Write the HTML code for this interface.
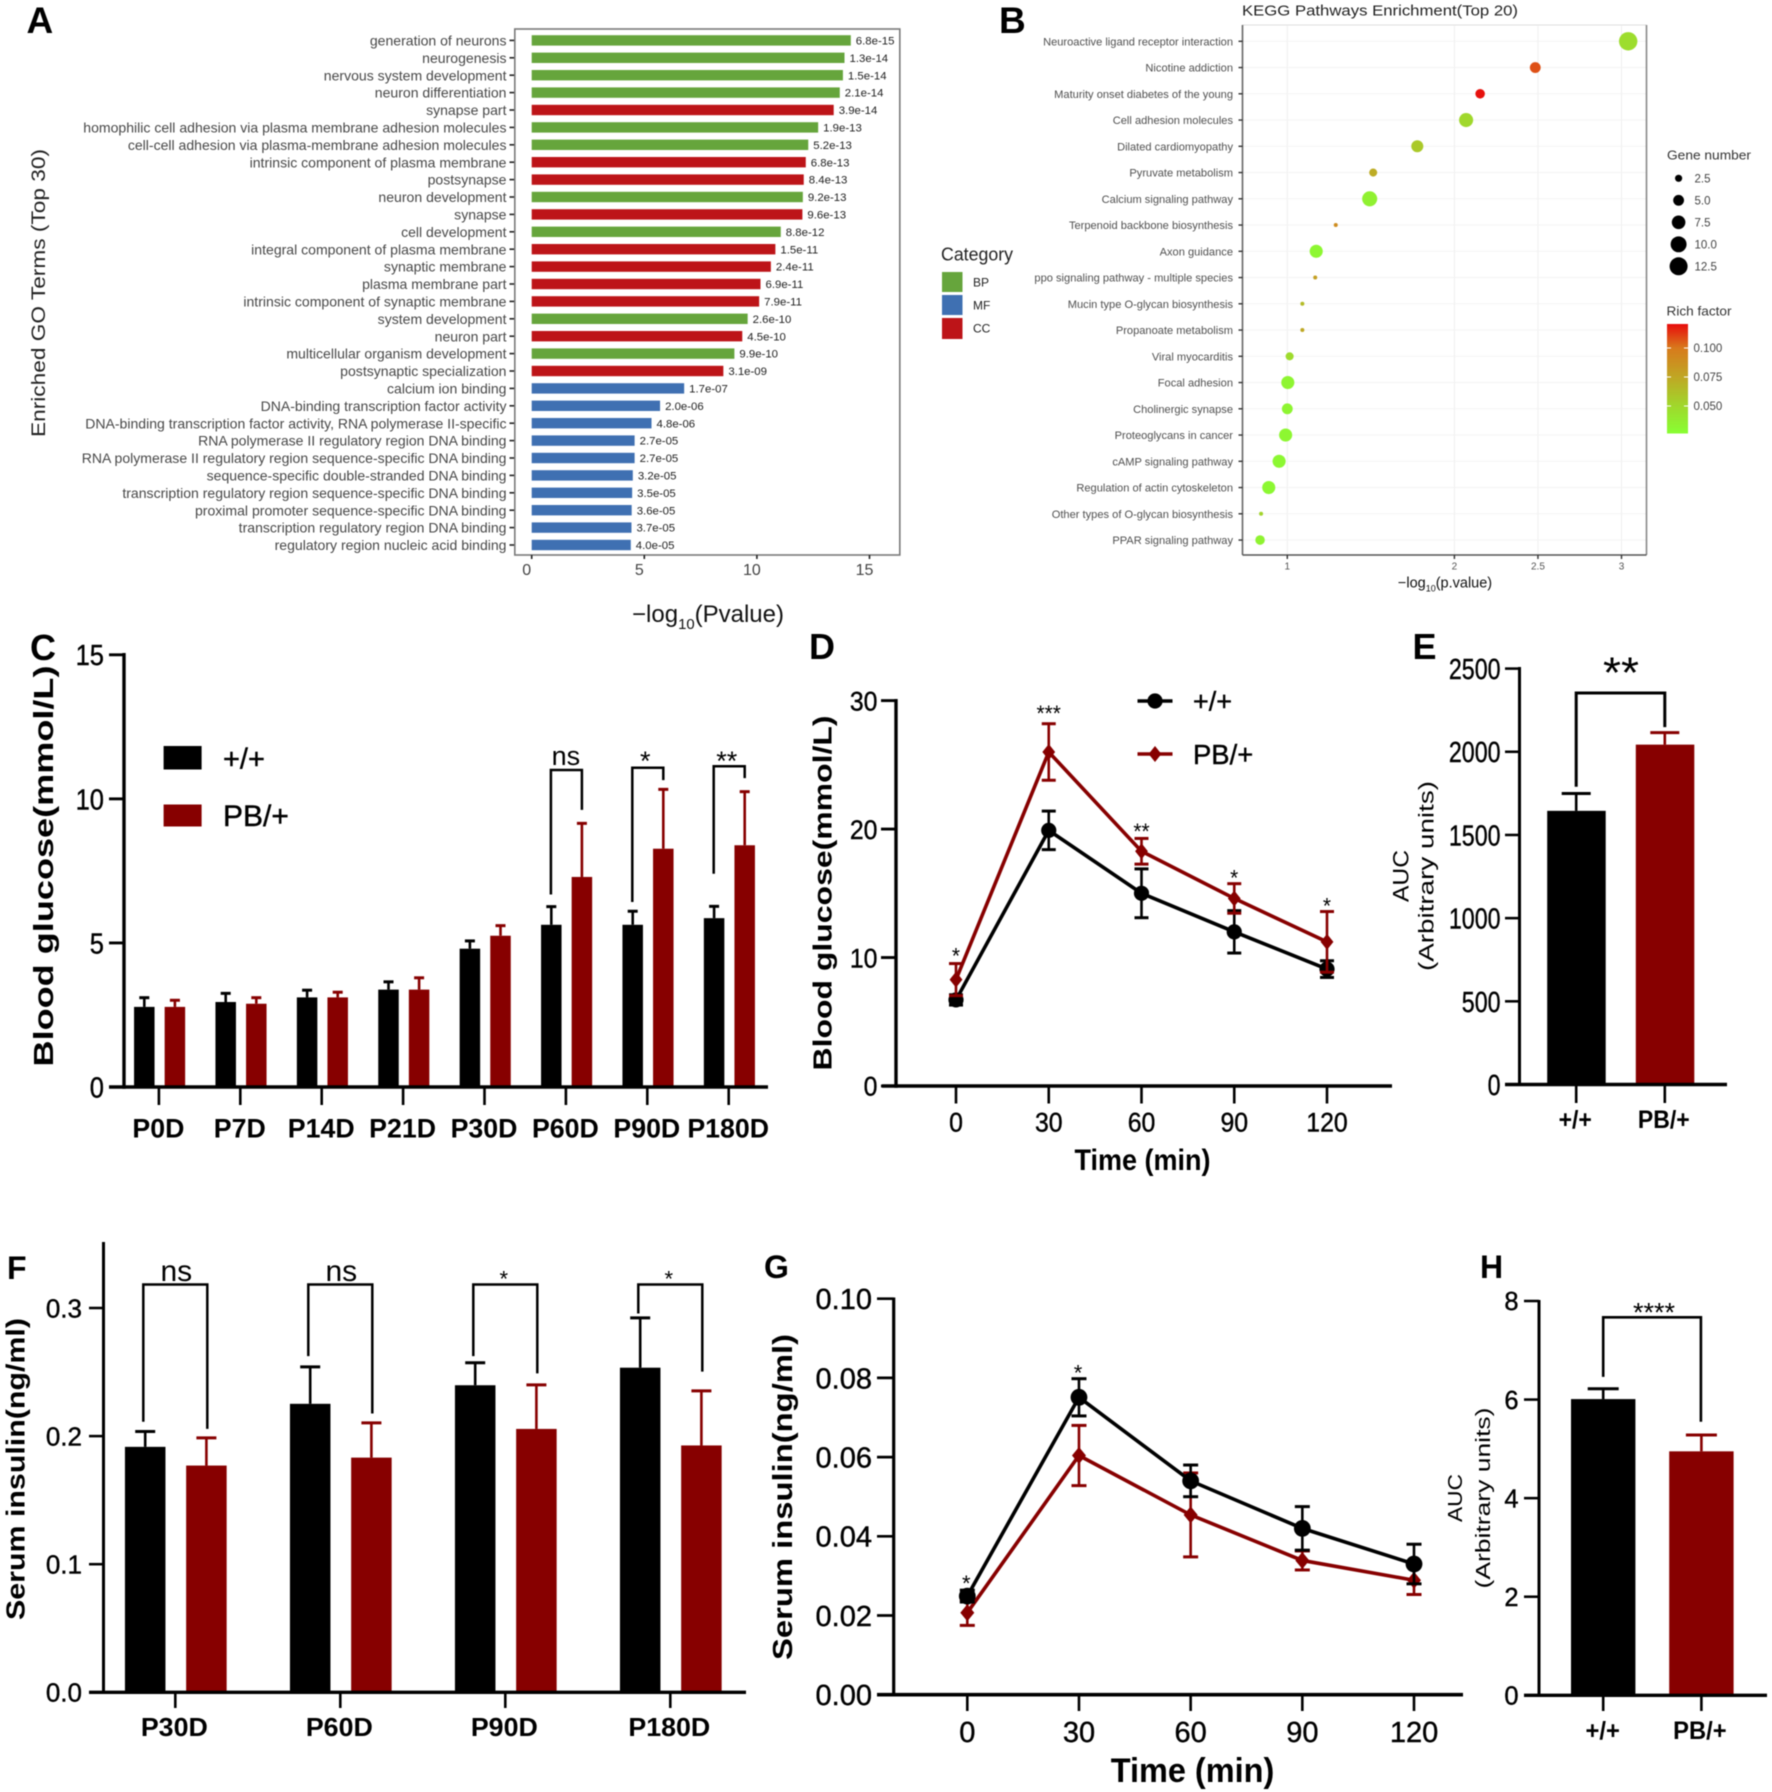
<!DOCTYPE html>
<html lang="en">
<head>
<meta charset="utf-8">
<title>Multi-panel figure</title>
<style>
html,body{margin:0;padding:0;background:#fff;}
body{width:1772px;height:1792px;overflow:hidden;}
svg{display:block;filter:blur(0.45px);}
text{font-family:"Liberation Sans",sans-serif;}
</style>
</head>
<body>
<svg id="fig" xmlns="http://www.w3.org/2000/svg" width="1772" height="1792" viewBox="0 0 1772 1792">
<defs>
<linearGradient id="richGrad" x1="0" y1="1" x2="0" y2="0">
<stop offset="0" stop-color="#88ff33"/>
<stop offset="0.25" stop-color="#a0d82c"/>
<stop offset="0.51" stop-color="#bfa824"/>
<stop offset="0.78" stop-color="#d87a1c"/>
<stop offset="1" stop-color="#e80c0c"/>
</linearGradient>
</defs>
</svg>
<script>
/* ---------- Panel A data ---------- */
const goTerms = ["generation of neurons","neurogenesis","nervous system development","neuron differentiation","synapse part","homophilic cell adhesion via plasma membrane adhesion molecules","cell-cell adhesion via plasma-membrane adhesion molecules","intrinsic component of plasma membrane","postsynapse","neuron development","synapse","cell development","integral component of plasma membrane","synaptic membrane","plasma membrane part","intrinsic component of synaptic membrane","system development","neuron part","multicellular organism development","postsynaptic specialization","calcium ion binding","DNA-binding transcription factor activity","DNA-binding transcription factor activity, RNA polymerase II-specific","RNA polymerase II regulatory region DNA binding","RNA polymerase II regulatory region sequence-specific DNA binding","sequence-specific double-stranded DNA binding","transcription regulatory region sequence-specific DNA binding","proximal promoter sequence-specific DNA binding","transcription regulatory region DNA binding","regulatory region nucleic acid binding"];
const goCategory = ["BP","BP","BP","BP","CC","BP","BP","CC","CC","BP","CC","BP","CC","CC","CC","CC","BP","CC","BP","CC","MF","MF","MF","MF","MF","MF","MF","MF","MF","MF"];
const goLogP = [14.17,13.89,13.82,13.68,13.41,12.72,12.28,12.17,12.08,12.04,12.02,11.06,10.82,10.62,10.16,10.10,9.59,9.35,9.00,8.51,6.77,5.70,5.32,4.57,4.57,4.49,4.46,4.44,4.43,4.40];
const goPLabels = ["6.8e-15","1.3e-14","1.5e-14","2.1e-14","3.9e-14","1.9e-13","5.2e-13","6.8e-13","8.4e-13","9.2e-13","9.6e-13","8.8e-12","1.5e-11","2.4e-11","6.9e-11","7.9e-11","2.6e-10","4.5e-10","9.9e-10","3.1e-09","1.7e-07","2.0e-06","4.8e-06","2.7e-05","2.7e-05","3.2e-05","3.5e-05","3.6e-05","3.7e-05","4.0e-05"];
const goTicks = [0,5,10,15];

/* ---------- Panel B data ---------- */
const keggPathways = ["Neuroactive ligand receptor interaction","Nicotine addiction","Maturity onset diabetes of the young","Cell adhesion molecules","Dilated cardiomyopathy","Pyruvate metabolism","Calcium signaling pathway","Terpenoid backbone biosynthesis","Axon guidance","ppo signaling pathway - multiple species","Mucin type O-glycan biosynthesis","Propanoate metabolism","Viral myocarditis","Focal adhesion","Cholinergic synapse","Proteoglycans in cancer","cAMP signaling pathway","Regulation of actin cytoskeleton","Other types of O-glycan biosynthesis","PPAR signaling pathway"];
const keggLogP = [3.04,2.484,2.154,2.07,1.778,1.514,1.493,1.29,1.173,1.167,1.09,1.09,1.014,1.003,1.0,0.99,0.951,0.889,0.843,0.837];
const keggGenes = [13,5,4,8,6,3,9,1,7,1,1,1,3,7,5,7,7,7,1,4];
const keggRich = [0.047,0.108,0.12,0.05,0.058,0.073,0.035,0.09,0.032,0.08,0.065,0.075,0.048,0.033,0.033,0.032,0.031,0.031,0.052,0.034];
const keggTicks = [1,2,2.5,3];
const geneLegend = [2.5,5,7.5,10,12.5];
const richTicks = [0.1,0.075,0.05];

/* ---------- Panel C data ---------- */
const cDays = ["P0D","P7D","P14D","P21D","P30D","P60D","P90D","P180D"];
const cControl = [2.78,2.95,3.11,3.38,4.8,5.63,5.63,5.86];
const cControlErr = [0.32,0.3,0.25,0.27,0.27,0.63,0.47,0.41];
const cMutant = [2.78,2.89,3.11,3.38,5.25,7.29,8.27,8.39];
const cMutantErr = [0.23,0.21,0.18,0.41,0.35,1.86,2.06,1.86];
const cTicks = [0,5,10,15];
const cSigIndex = [5,6,7];
const cSigLabels = ["ns","*","**"];
const cSigTop = [11.0,11.08,11.13];
const cSigLeft = [6.68,6.42,7.4];
const cSigRight = [9.62,10.65,10.72];

/* ---------- Panel D data ---------- */
const dTimes = [0,30,60,90,120];
const dControl = [6.7,19.9,15.0,12.0,9.1];
const dControlErr = [0.4,1.5,1.9,1.65,0.65];
const dMutant = [8.28,26.0,18.27,14.6,11.22];
const dMutantErr = [1.25,2.2,1.0,1.15,2.36];
const dTicks = [0,10,20,30];
const dStars = ["*","***","**","*","*"];
const dStarValues = [10.5,29.4,20.2,16.6,14.4];

/* ---------- Panel E data ---------- */
const eGroups = ["+/+","PB/+"];
const eValues = [1645,2043];
const eErrors = [104,72];
const eTicks = [0,500,1000,1500,2000,2500];
const eSigTop = 2353;
const eSigEnds = [1790,2148];

/* ---------- Panel F data ---------- */
const fDays = ["P30D","P60D","P90D","P180D"];
const fControl = [0.1916,0.2252,0.2397,0.2534];
const fControlErr = [0.012,0.0288,0.0176,0.0389];
const fMutant = [0.177,0.1832,0.2056,0.1927];
const fMutantErr = [0.0216,0.0271,0.0344,0.0426];
const fTicks = [0,0.1,0.2,0.3];
const fSigLabels = ["ns","ns","*","*"];
const fSigTop = [0.3183,0.3183,0.3183,0.3183];
const fSigLeft = [0.2112,0.2624,0.2624,0.2957];
const fSigRight = [0.2056,0.2176,0.249,0.2503];

/* ---------- Panel G data ---------- */
const gTimes = [0,30,60,90,120];
const gControl = [0.0249,0.0751,0.054,0.042,0.033];
const gControlErr = [0.0015,0.0047,0.004,0.0055,0.005];
const gMutant = [0.0207,0.0604,0.0454,0.0339,0.0289];
const gMutantErr = [0.0032,0.0076,0.0106,0.0024,0.0036];
const gTicks = [0,0.02,0.04,0.06,0.08,0.1];
const gStars = ["*","*"];
const gStarIndex = [0,1];
const gStarValues = [0.0293,0.0825];

/* ---------- Panel H data ---------- */
const hGroups = ["+/+","PB/+"];
const hValues = [6.01,4.95];
const hErrors = [0.21,0.33];
const hTicks = [0,2,4,6,8];
const hSigTop = 7.67;
const hSigEnds = [6.46,5.55];

/* ---------- helpers ---------- */
const NS = "http://www.w3.org/2000/svg";
const root = document.getElementById("fig");
const BLACK = "#000000", DARKRED = "#870000";

function tag(node, name) {
  
  
  return node;
}
function make(kind, attrs, parent) {
  const n = document.createElementNS(NS, kind);
  for (const k in attrs) n.setAttribute(k, attrs[k]);
  (parent || root).appendChild(n);
  return n;
}
function panel(name) {
  return tag(make("g", {}), name);
}
function linear(d0, d1, r0, r1) {
  return function (v) { return r0 + (v - d0) * (r1 - r0) / (d1 - d0); };
}
function L(p, name, x1, y1, x2, y2, color, w) {
  return tag(make("line", {x1: x1, y1: y1, x2: x2, y2: y2, stroke: color || "#000", "stroke-width": w || 3}, p), name);
}
function R(p, name, x, y, w, h, color) {
  return tag(make("rect", {x: x, y: y, width: w, height: h, fill: color}, p), name);
}
function T(p, name, str, x, y, o) {
  o = o || {};
  const size = o.size || 14;
  const t = make("text", {"font-size": size, fill: o.color || "#000", "text-anchor": o.anchor || "middle"}, p);
  if (o.bold) t.setAttribute("font-weight", "bold");
  if (o.thick) {
    t.setAttribute("stroke", o.color || "#000");
    t.setAttribute("stroke-width", o.thick);
  }
  if (o.rot) {
    t.setAttribute("transform", "translate(" + (x + 0.36 * size) + "," + y + ") rotate(-90)");
  } else {
    const by = o.base ? y : y + 0.36 * size;
    t.setAttribute("transform", "translate(" + x + "," + by + ") scale(" + (o.sx || 1) + ",1)");
  }
  if (o.len) {
    t.setAttribute("textLength", o.len);
    t.setAttribute("lengthAdjust", "spacingAndGlyphs");
  }
  t.textContent = str;
  return tag(t, name);
}
function star(p, name, str, x, yc, size, sx) {
  return T(p, name, str, x, yc + 0.57 * size, {size: size, base: true, sx: sx || 1});
}
function nsText(p, name, x, yc, size) {
  return T(p, name, "ns", x, yc + 0.26 * size, {size: size, base: true});
}
function logTitle(p, name, x, yc, size, rest) {
  const t = make("text", {"font-size": size, fill: "#111", "text-anchor": "middle",
    transform: "translate(" + x + "," + (yc + 0.3 * size) + ")"}, p);
  const a = make("tspan", {}, t); a.textContent = "\u2212log";
  const b = make("tspan", {dy: 0.28 * size, "font-size": size * 0.62}, t); b.textContent = "10";
  const c = make("tspan", {dy: -0.28 * size}, t); c.textContent = rest;
  return tag(t, name);
}
function bracket(p, name, xl, xr, yTop, yl, yr, w) {
  return tag(make("path", {d: "M" + xl + " " + yl + "V" + yTop + "H" + xr + "V" + yr, fill: "none", stroke: "#000", "stroke-width": w || 2.5}, p), name);
}
function errUp(p, name, x, yv, yt, capW, color, w) {
  L(p, name + "-stem", x, yv, x, yt, color, w || 2.6);
  L(p, name + "-cap", x - capW / 2, yt, x + capW / 2, yt, color, 3);
}
function errBoth(p, name, x, yb, yt, capW, color) {
  L(p, name + "-stem", x, yb, x, yt, color, 2.6);
  L(p, name + "-cap-top", x - capW / 2, yt, x + capW / 2, yt, color, 3);
  L(p, name + "-cap-bottom", x - capW / 2, yb, x + capW / 2, yb, color, 3);
}
function yAxis(p, prefix, x, yFn, ticks, top, tickLeft, w, fmt, labelOpts, labelRight) {
  L(p, prefix + "-y-axis", x, yFn(ticks[0]) + w / 2, x, top, "#000", w);
  ticks.forEach(function (v) {
    L(p, prefix + "-y-tick", tickLeft, yFn(v), x, yFn(v), "#000", w * 0.85);
    T(p, prefix + "-y-tick-label", fmt(v), labelRight, yFn(v), labelOpts);
  });
}
function diamond(p, name, x, y, rx, ry, color) {
  return tag(make("polygon", {points: (x - rx) + "," + y + " " + x + "," + (y - ry) + " " + (x + rx) + "," + y + " " + x + "," + (y + ry), fill: color}, p), name);
}
function circle(p, name, x, y, r, color) {
  return tag(make("circle", {cx: x, cy: y, r: r, fill: color}, p), name);
}

/* ---------- Panel A ---------- */
(function () {
  const p = panel("panel-a-go-enrichment");
  const colors = {BP: "#66a53c", MF: "#3f70b2", CC: "#bd1418"};
  const x = linear(0, 15, 531.7, 869.5);
  const y = function (i) { return 40.4 + i * 17.4; };
  T(p, "panel-letter-a", "A", 26.5, 33, {size: 37, bold: true, base: true, anchor: "start"});
  make("rect", {x: 514.8, y: 29, width: 385, height: 526, fill: "none", stroke: "#7a7a7a", "stroke-width": 1.6}, p);
  goTerms.forEach(function (term, i) {
    R(p, "go-bar", x(0), y(i) - 5.2, x(goLogP[i]) - x(0), 10.4, colors[goCategory[i]]);
    L(p, "go-y-tick", 509.5, y(i), 514, y(i), "#222", 1.6);
    T(p, "go-term-label", term, 506.5, y(i), {size: 14.05, anchor: "end", color: "#484848"});
    T(p, "go-pvalue-label", goPLabels[i], x(goLogP[i]) + 5, y(i), {size: 11.4, anchor: "start", color: "#222"});
  });
  goTicks.forEach(function (v) {
    L(p, "go-x-tick", x(v), 555, x(v), 559, "#222", 1.6);
    T(p, "go-x-tick-label", String(v), x(v) - 5, 569, {size: 16, color: "#444"});
  });
  T(p, "go-y-axis-title", "Enriched GO Terms (Top 30)", 38, 293, {size: 19, rot: true, len: 288, color: "#222"});
  logTitle(p, "go-x-axis-title", 708, 615, 24, "(Pvalue)");
  T(p, "category-legend-title", "Category", 977, 254, {size: 18, len: 72, color: "#222"});
  R(p, "legend-swatch-bp", 942, 272, 20.5, 20, colors.BP);
  R(p, "legend-swatch-mf", 942, 295, 20.5, 20, colors.MF);
  R(p, "legend-swatch-cc", 942, 318, 20.5, 21, colors.CC);
  T(p, "legend-label-bp", "BP", 973, 282, {size: 12, anchor: "start", color: "#222"});
  T(p, "legend-label-mf", "MF", 973, 305, {size: 12, anchor: "start", color: "#222"});
  T(p, "legend-label-cc", "CC", 973, 328, {size: 12, anchor: "start", color: "#222"});
})();

/* ---------- Panel B ---------- */
function geneRadius(g) { return 2 + 2.763 * (Math.sqrt(g) - 1); }
function richColor(v) {
  const s = [[0.027,[136,255,51]],[0.05,[160,216,44]],[0.075,[191,168,36]],[0.1,[216,122,28]],[0.121,[232,12,12]]];
  for (let i = 1; i < s.length; i++) {
    if (v <= s[i][0]) {
      const f = Math.max(0, (v - s[i-1][0]) / (s[i][0] - s[i-1][0]));
      const c = s[i-1][1].map(function (a, k) { return Math.round(a + (s[i][1][k] - a) * f); });
      return "rgb(" + c.join(",") + ")";
    }
  }
  return "rgb(232,12,12)";
}
(function () {
  const p = panel("panel-b-kegg-enrichment");
  const x = linear(1, 3, 1287.3, 1621.5);
  const y = function (i) { return 41.3 + i * 26.25; };
  T(p, "panel-letter-b", "B", 999, 33, {size: 37, bold: true, base: true, anchor: "start"});
  T(p, "kegg-title", "KEGG Pathways Enrichment(Top 20)", 1380, 10, {size: 15, len: 276, color: "#222"});
  keggTicks.forEach(function (v) {
    L(p, "kegg-grid-vertical", x(v), 26, x(v), 555, "#eeeeee", 1);
  });
  keggPathways.forEach(function (name, i) {
    L(p, "kegg-grid-horizontal", 1242.5, y(i), 1646.5, y(i), "#f3f3f3", 1);
  });
  L(p, "kegg-frame-top", 1242.5, 25, 1646.5, 25, "#dddddd", 1);
  L(p, "kegg-frame-left", 1242.5, 25, 1242.5, 555, "#666", 1.6);
  L(p, "kegg-frame-right", 1646.5, 25, 1646.5, 555, "#888", 1.6);
  L(p, "kegg-frame-bottom", 1242.5, 555, 1646.5, 555, "#555", 1.6);
  keggPathways.forEach(function (name, i) {
    L(p, "kegg-y-tick", 1238.5, y(i), 1242.5, y(i), "#333", 1.4);
    T(p, "kegg-pathway-label", name, 1233, y(i), {size: 11.1, anchor: "end", color: "#505050"});
    circle(p, "kegg-point", x(keggLogP[i]), y(i), geneRadius(keggGenes[i]), richColor(keggRich[i]));
  });
  keggTicks.forEach(function (v) {
    L(p, "kegg-x-tick", x(v), 555, x(v), 559, "#333", 1.4);
    T(p, "kegg-x-tick-label", String(v), x(v), 566, {size: 10, color: "#555"});
  });
  logTitle(p, "kegg-x-axis-title", 1445, 583, 14.5, "(p.value)");
  T(p, "gene-number-legend-title", "Gene number", 1667, 155, {size: 13, anchor: "start", len: 84, color: "#333"});
  geneLegend.forEach(function (g, i) {
    const ly = 178.3 + i * 22;
    circle(p, "gene-number-legend-dot", 1678.6, ly, geneRadius(g), "#000");
    T(p, "gene-number-legend-label", g.toFixed(1), 1694.5, ly, {size: 11.5, anchor: "start", color: "#444"});
  });
  T(p, "rich-factor-legend-title", "Rich factor", 1666.5, 311, {size: 13, anchor: "start", len: 65, color: "#333"});
  R(p, "rich-factor-colorbar", 1667, 324, 21, 109.5, "url(#richGrad)");
  const ry = linear(0.05, 0.1, 406, 348);
  richTicks.forEach(function (v) {
    L(p, "rich-factor-tick", 1667, ry(v), 1671, ry(v), "#fff", 1);
    L(p, "rich-factor-tick", 1684, ry(v), 1688, ry(v), "#fff", 1);
    T(p, "rich-factor-label", v.toFixed(3), 1693.5, ry(v), {size: 11.5, anchor: "start", color: "#444"});
  });
})();

/* ---------- Panel C ---------- */
(function () {
  const p = panel("panel-c-blood-glucose-bars");
  const y = linear(0, 15, 1087, 654.8);
  const tx = function (i) { return 158.9 + i * 81.4; };
  T(p, "panel-letter-c", "C", 30, 660, {size: 36, bold: true, base: true, anchor: "start"});
  T(p, "c-y-axis-title", "Blood glucose(mmol/L)", 43, 866, {size: 28, bold: true, rot: true, len: 401});
  cDays.forEach(function (d, i) {
    const xb = tx(i) - 14.6, xr = tx(i) + 16, w = 20.5;
    errUp(p, "c-control-error", xb, y(cControl[i]), y(cControl[i] + cControlErr[i]), 10, BLACK);
    errUp(p, "c-mutant-error", xr, y(cMutant[i]), y(cMutant[i] + cMutantErr[i]), 10, DARKRED);
    R(p, "c-control-bar", xb - w / 2, y(cControl[i]), w, y(0) - y(cControl[i]), BLACK);
    R(p, "c-mutant-bar", xr - w / 2, y(cMutant[i]), w, y(0) - y(cMutant[i]), DARKRED);
    L(p, "c-x-tick", tx(i), y(0), tx(i), 1105, "#000", 2.6);
    T(p, "c-x-tick-label", d, tx(i) - 0.5, 1127.6, {size: 27, bold: true, sx: 0.99});
  });
  L(p, "c-x-axis", 109, y(0), 768, y(0), "#000", 3.6);
  yAxis(p, "c", 124, y, cTicks, 653, 109, 3.4, String, {size: 29, anchor: "end", sx: 0.88, thick: 0.4}, 104);
  cSigIndex.forEach(function (k, i) {
    const c = tx(k);
    bracket(p, "c-significance-bracket", c - 15, c + 16, y(cSigTop[i]), y(cSigLeft[i]), y(cSigRight[i]));
    if (cSigLabels[i] === "ns") {
      nsText(p, "c-significance-label", c, 758, 27);
    } else {
      star(p, "c-significance-label", cSigLabels[i], c - 2, 754.5, 27);
    }
  });
  R(p, "c-legend-swatch-control", 163.6, 746, 38, 23.5, BLACK);
  T(p, "c-legend-label-control", "+/+", 223, 758, {size: 29, anchor: "start", thick: 0.4});
  R(p, "c-legend-swatch-mutant", 163.6, 804.5, 38, 22, DARKRED);
  T(p, "c-legend-label-mutant", "PB/+", 223, 815, {size: 30, anchor: "start", thick: 0.4});
})();

/* ---------- Panel D ---------- */
(function () {
  const p = panel("panel-d-blood-glucose-time");
  const y = linear(0, 30, 1086, 700.6);
  const x = linear(0, 120, 956, 1327);
  T(p, "panel-letter-d", "D", 809, 659, {size: 36, bold: true, base: true, anchor: "start"});
  T(p, "d-y-axis-title", "Blood glucose(mmol/L)", 822, 893, {size: 26, bold: true, rot: true, len: 355});
  T(p, "d-x-axis-title", "Time (min)", 1142.5, 1159, {size: 30, bold: true, len: 136});
  L(p, "d-x-axis", 882, y(0), 1392, y(0), "#000", 3.6);
  yAxis(p, "d", 896, y, dTicks, 699, 881, 3.4, String, {size: 27, anchor: "end", sx: 0.92, thick: 0.4}, 877.5);
  dTimes.forEach(function (t) {
    L(p, "d-x-tick", x(t), y(0), x(t), 1103.5, "#000", 2.6);
    T(p, "d-x-tick-label", String(t), x(t), 1122, {size: 27, sx: 0.92, thick: 0.4});
  });
  const ptsC = dTimes.map(function (t, i) { return x(t) + "," + y(dControl[i]); }).join(" ");
  const ptsM = dTimes.map(function (t, i) { return x(t) + "," + y(dMutant[i]); }).join(" ");
  tag(make("polyline", {points: ptsC, fill: "none", stroke: BLACK, "stroke-width": 3.6}, p), "d-control-line");
  dTimes.forEach(function (t, i) {
    errBoth(p, "d-control-error", x(t), y(dControl[i] - dControlErr[i]), y(dControl[i] + dControlErr[i]), 14, BLACK);
    circle(p, "d-control-point", x(t), y(dControl[i]), 7.6, BLACK);
  });
  tag(make("polyline", {points: ptsM, fill: "none", stroke: DARKRED, "stroke-width": 3.6}, p), "d-mutant-line");
  dTimes.forEach(function (t, i) {
    errBoth(p, "d-mutant-error", x(t), y(dMutant[i] - dMutantErr[i]), y(dMutant[i] + dMutantErr[i]), 14, DARKRED);
    diamond(p, "d-mutant-point", x(t), y(dMutant[i]), 6.4, 8, DARKRED);
    star(p, "d-significance-label", dStars[i], x(t), y(dStarValues[i]), 22, 0.95);
  });
  L(p, "d-legend-line-control", 1137.5, 701, 1172.5, 701, BLACK, 3.6);
  circle(p, "d-legend-marker-control", 1155, 701, 7.6, BLACK);
  T(p, "d-legend-label-control", "+/+", 1193, 701, {size: 27, anchor: "start", thick: 0.4});
  L(p, "d-legend-line-mutant", 1137.5, 754, 1172.5, 754, DARKRED, 3.6);
  diamond(p, "d-legend-marker-mutant", 1155, 754, 6.4, 8, DARKRED);
  T(p, "d-legend-label-mutant", "PB/+", 1193, 754, {size: 28, anchor: "start", sx: 0.98, thick: 0.4});
})();

/* ---------- Panel E ---------- */
(function () {
  const p = panel("panel-e-auc");
  const y = linear(0, 2500, 1084.5, 668.6);
  const xs = [1576.2, 1664.8];
  const cols = [BLACK, DARKRED];
  T(p, "panel-letter-e", "E", 1412.5, 659, {size: 36, bold: true, base: true, anchor: "start"});
  T(p, "e-y-axis-title-line-1", "AUC", 1400.5, 876, {size: 22, rot: true, len: 52});
  T(p, "e-y-axis-title-line-2", "(Arbitrary units)", 1426, 876, {size: 21, rot: true, len: 190});
  eGroups.forEach(function (g, i) {
    errUp(p, "e-error", xs[i], y(eValues[i]), y(eValues[i] + eErrors[i]), 29, cols[i]);
    R(p, "e-bar", xs[i] - 29, y(eValues[i]), 58.5, y(0) - y(eValues[i]), cols[i]);
    L(p, "e-x-tick", xs[i], y(0), xs[i], 1103, "#000", 2.6);
    T(p, "e-x-tick-label", g, xs[i] - 1, 1119, {size: 25, bold: true, sx: 0.92});
  });
  L(p, "e-x-axis", 1505, y(0), 1727, y(0), "#000", 3.4);
  yAxis(p, "e", 1519.5, y, eTicks, 667, 1505, 3, String, {size: 29, anchor: "end", sx: 0.8, thick: 0.4}, 1500.5);
  bracket(p, "e-significance-bracket", xs[0], xs[1], y(eSigTop), y(eSigEnds[0]), y(eSigEnds[1]), 3);
  star(p, "e-significance-label", "**", 1621, 662.5, 44, 1.05);
})();

/* ---------- Panel F ---------- */
(function () {
  const p = panel("panel-f-serum-insulin-bars");
  const y = linear(0, 0.3, 1692.3, 1308);
  const tx = function (i) { return 175.3 + i * 165; };
  T(p, "panel-letter-f", "F", 7, 1279, {size: 32, bold: true, base: true, anchor: "start"});
  T(p, "f-y-axis-title", "Serum insulin(ng/ml)", 15, 1469, {size: 26, bold: true, rot: true, len: 302});
  fDays.forEach(function (d, i) {
    const xb = tx(i) - 30.1, xr = tx(i) + 31.1, w = 40.5;
    errUp(p, "f-control-error", xb, y(fControl[i]), y(fControl[i] + fControlErr[i]), 20, BLACK);
    errUp(p, "f-mutant-error", xr, y(fMutant[i]), y(fMutant[i] + fMutantErr[i]), 20, DARKRED);
    R(p, "f-control-bar", xb - w / 2, y(fControl[i]), w, y(0) - y(fControl[i]), BLACK);
    R(p, "f-mutant-bar", xr - w / 2, y(fMutant[i]), w, y(0) - y(fMutant[i]), DARKRED);
    L(p, "f-x-tick", tx(i), y(0), tx(i), 1708, "#000", 2.6);
    T(p, "f-x-tick-label", d, tx(i) - 1, 1726.7, {size: 25.5, bold: true, sx: 1.05});
    const cx = tx(i);
    bracket(p, "f-significance-bracket", cx - 32, cx + 32, y(fSigTop[i]), y(fSigLeft[i]), y(fSigRight[i]));
    if (fSigLabels[i] === "ns") {
      nsText(p, "f-significance-label", cx + 1, 1273, 30);
    } else {
      star(p, "f-significance-label", fSigLabels[i], cx - 1.5, 1274, 22);
    }
  });
  L(p, "f-x-axis", 89, y(0), 746, y(0), "#000", 3.4);
  yAxis(p, "f", 103.5, y, fTicks, 1242, 89, 3, function (v) { return v.toFixed(1); }, {size: 26, anchor: "end", thick: 0.4}, 82);
})();

/* ---------- Panel G ---------- */
(function () {
  const p = panel("panel-g-serum-insulin-time");
  const y = linear(0, 0.1, 1694.7, 1298.7);
  const x = linear(0, 120, 967.3, 1414);
  T(p, "panel-letter-g", "G", 764, 1278, {size: 32, bold: true, base: true, anchor: "start"});
  T(p, "g-y-axis-title", "Serum insulin(ng/ml)", 782, 1497, {size: 28, bold: true, rot: true, len: 326});
  T(p, "g-x-axis-title", "Time (min)", 1192.5, 1770, {size: 34, bold: true, len: 163.5});
  L(p, "g-x-axis", 877, y(0), 1463, y(0), "#000", 3.6);
  yAxis(p, "g", 893.7, y, gTicks, 1297.5, 877, 3.2, function (v) { return v.toFixed(2); }, {size: 29, anchor: "end", thick: 0.4}, 872);
  gTimes.forEach(function (t) {
    L(p, "g-x-tick", x(t), y(0), x(t), 1711, "#000", 2.6);
    T(p, "g-x-tick-label", String(t), x(t), 1731.7, {size: 29, thick: 0.4});
  });
  const ptsC = gTimes.map(function (t, i) { return x(t) + "," + y(gControl[i]); }).join(" ");
  const ptsM = gTimes.map(function (t, i) { return x(t) + "," + y(gMutant[i]); }).join(" ");
  tag(make("polyline", {points: ptsM, fill: "none", stroke: DARKRED, "stroke-width": 3.6}, p), "g-mutant-line");
  gTimes.forEach(function (t, i) {
    errBoth(p, "g-mutant-error", x(t), y(gMutant[i] - gMutantErr[i]), y(gMutant[i] + gMutantErr[i]), 15, DARKRED);
    diamond(p, "g-mutant-point", x(t), y(gMutant[i]), 7, 8.5, DARKRED);
  });
  tag(make("polyline", {points: ptsC, fill: "none", stroke: BLACK, "stroke-width": 3.6}, p), "g-control-line");
  gTimes.forEach(function (t, i) {
    errBoth(p, "g-control-error", x(t), y(gControl[i] - gControlErr[i]), y(gControl[i] + gControlErr[i]), 15, BLACK);
    circle(p, "g-control-point", x(t), y(gControl[i]), 8.4, BLACK);
  });
  gStarIndex.forEach(function (k, i) {
    star(p, "g-significance-label", gStars[i], x(gTimes[k]) - 1, y(gStarValues[i]), 22);
  });
})();

/* ---------- Panel H ---------- */
(function () {
  const p = panel("panel-h-auc");
  const y = linear(0, 8, 1695.3, 1301);
  const xs = [1603.2, 1701.4];
  const cols = [BLACK, DARKRED];
  T(p, "panel-letter-h", "H", 1480, 1278, {size: 32, bold: true, base: true, anchor: "start"});
  T(p, "h-y-axis-title-line-1", "AUC", 1455, 1498, {size: 20, rot: true, len: 48});
  T(p, "h-y-axis-title-line-2", "(Arbitrary units)", 1483, 1498, {size: 20, rot: true, len: 181});
  hGroups.forEach(function (g, i) {
    errUp(p, "h-error", xs[i], y(hValues[i]), y(hValues[i] + hErrors[i]), 31, cols[i]);
    R(p, "h-bar", xs[i] - 32.2, y(hValues[i]), 64.4, y(0) - y(hValues[i]), cols[i]);
    L(p, "h-x-tick", xs[i], y(0), xs[i], 1711, "#000", 2.6);
    T(p, "h-x-tick-label", g, xs[i] - (i === 1 ? 1.5 : 0.5), 1730, {size: 25, bold: true, sx: 0.95});
  });
  L(p, "h-x-axis", 1524, y(0), 1767, y(0), "#000", 3.4);
  yAxis(p, "h", 1539, y, hTicks, 1300, 1524, 3, String, {size: 25.5, anchor: "end", thick: 0.4}, 1518.5);
  bracket(p, "h-significance-bracket", xs[0], xs[1] - 0.5, y(hSigTop), y(hSigEnds[0]), y(hSigEnds[1]), 2.6);
  star(p, "h-significance-label", "****", 1654, 1306, 27);
})();
</script>
</body>
</html>
